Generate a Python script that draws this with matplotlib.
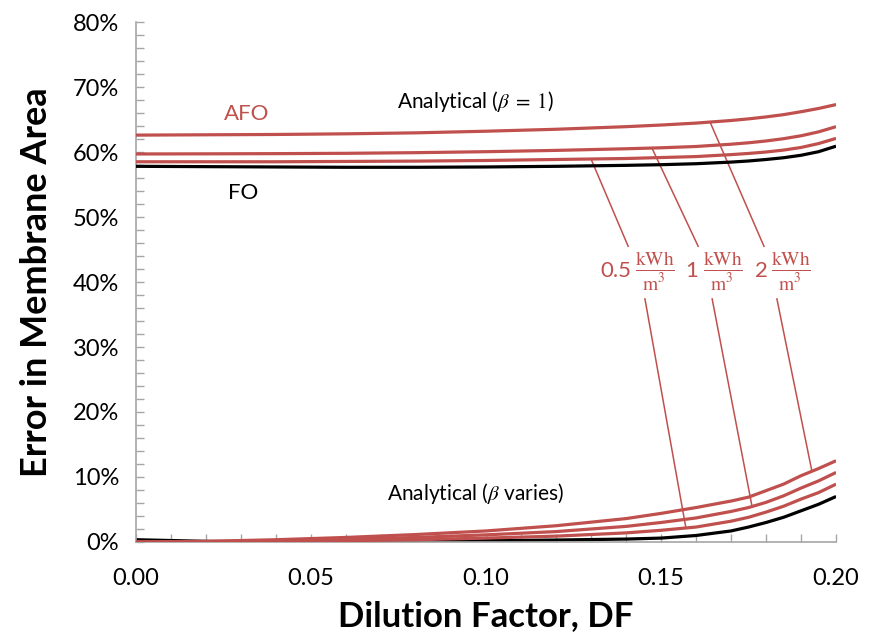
import numpy as np
import matplotlib
matplotlib.use("Agg")
import matplotlib.pyplot as plt
from matplotlib.ticker import MultipleLocator, FuncFormatter

# Dilution factor sample points
df = [0.00, 0.02, 0.04, 0.06, 0.08, 0.10, 0.12, 0.14, 0.15, 0.16, 0.17,
      0.175, 0.18, 0.185, 0.19, 0.195, 0.20]

# Analytical (beta = 1): error in membrane area, %
fo_beta1 = [57.8, 57.75, 57.7, 57.65, 57.65, 57.7, 57.8, 57.95, 58.05, 58.2, 58.45,
            58.62, 58.85, 59.12, 59.5, 60.05, 60.9]
afo05_beta1 = [58.5, 58.5, 58.5, 58.55, 58.6, 58.7, 58.85, 59.0, 59.15, 59.3, 59.6,
               59.78, 60.0, 60.3, 60.7, 61.3, 62.1]
afo1_beta1 = [59.7, 59.72, 59.75, 59.8, 59.9, 60.05, 60.25, 60.5, 60.65, 60.85, 61.2,
              61.42, 61.7, 62.05, 62.5, 63.1, 63.9]
afo2_beta1 = [62.6, 62.65, 62.7, 62.8, 62.95, 63.2, 63.5, 63.9, 64.15, 64.45, 64.85,
              65.1, 65.4, 65.75, 66.2, 66.7, 67.3]

# Analytical (beta varies): error in membrane area, %
fo_var = [0.35, 0.1, 0.0, 0.05, 0.1, 0.2, 0.3, 0.45, 0.6, 1.0, 1.7,
          2.3, 3.0, 3.8, 4.8, 5.8, 7.0]
afo05_var = [0.0, 0.0, 0.1, 0.2, 0.35, 0.6, 0.9, 1.4, 1.8, 2.3, 3.2,
             3.8, 4.6, 5.5, 6.6, 7.6, 8.9]
afo1_var = [0.0, 0.05, 0.2, 0.4, 0.7, 1.1, 1.6, 2.4, 3.0, 3.7, 4.7,
            5.3, 6.1, 7.1, 8.3, 9.4, 10.7]
afo2_var = [0.0, 0.1, 0.35, 0.7, 1.15, 1.7, 2.5, 3.6, 4.4, 5.3, 6.3,
            6.9, 7.9, 8.9, 10.2, 11.3, 12.5]

# Specific energy labels and the DF where each leader touches its curves
energy_numbers = ["0.5", "1", "2"]
leader_df_upper = [0.130, 0.1474, 0.164]
leader_df_lower = [0.1571, 0.176, 0.1931]

RED = "#C0504D"
GRAY = "#A6A6A6"
SANS = ["Lato", "DejaVu Sans"]

plt.rcParams["font.family"] = SANS
plt.rcParams["mathtext.fontset"] = "stix"

fig = plt.figure(figsize=(8.70, 6.44), dpi=100)
ax = fig.add_axes([0.1563, 0.1584, 0.8047, 0.8074])

lw = 2.3
style = dict(lw=lw, solid_capstyle="butt", solid_joinstyle="round")
for series in (afo05_beta1, afo1_beta1, afo2_beta1, afo05_var, afo1_var, afo2_var):
    ax.plot(df, series, color=RED, zorder=3, **style)
ax.plot(df, fo_beta1, color="black", zorder=4, **style)
ax.plot(df, fo_var, color="black", zorder=2, **style)

# Leader lines from each pair of curves to its energy label
upper_curves = [afo05_beta1, afo1_beta1, afo2_beta1]
lower_curves = [afo05_var, afo1_var, afo2_var]
upper_end_df = [0.1406, 0.1606, 0.1794]
lower_start_df = [0.1454, 0.1646, 0.1831]
upper_end_y = 45.5
lower_start_y = 37.4
for i in range(3):
    y_up = np.interp(leader_df_upper[i], df, upper_curves[i])
    ax.plot([leader_df_upper[i], upper_end_df[i]], [y_up, upper_end_y],
            color=RED, lw=1.1, zorder=2)
    y_lo = np.interp(leader_df_lower[i], df, lower_curves[i])
    ax.plot([lower_start_df[i], leader_df_lower[i]], [lower_start_y, y_lo],
            color=RED, lw=1.1, zorder=2)

# Energy labels: number plus kWh/m^3 fraction
number_right = [0.1416, 0.1605, 0.1805]
frac_left = [0.1426, 0.1620, 0.1814]
label_y = 41.7
for i, num in enumerate(energy_numbers):
    ax.text(number_right[i], label_y, num, color=RED, fontsize=16,
            ha="right", va="center")
    ax.text(frac_left[i], label_y, r"$\frac{\mathrm{kWh}}{\mathrm{m^3}}$",
            color=RED, fontsize=20, ha="left", va="center")

ax.text(0.0317, 65.8, "AFO", color=RED, fontsize=16, ha="center", va="center")
ax.text(0.0306, 53.7, "FO", color="black", fontsize=16, ha="center", va="center")
ax.text(0.0969, 67.8, r"Analytical ($\beta\;=\;1$)", color="black", fontsize=15,
        ha="center", va="center")
ax.text(0.0971, 7.5, r"Analytical ($\beta$ varies)", color="black", fontsize=15,
        ha="center", va="center")

ax.set_xlim(0.0, 0.20)
ax.set_ylim(0, 80)
ax.xaxis.set_major_locator(MultipleLocator(0.05))
ax.xaxis.set_minor_locator(MultipleLocator(0.01))
ax.yaxis.set_major_locator(MultipleLocator(10))
ax.yaxis.set_minor_locator(MultipleLocator(2))
ax.xaxis.set_major_formatter(FuncFormatter(lambda v, p: f"{v:.2f}"))
ax.yaxis.set_major_formatter(FuncFormatter(lambda v, p: f"{v:.0f}%"))

for side in ("top", "right"):
    ax.spines[side].set_visible(False)
for side in ("left", "bottom"):
    ax.spines[side].set_color(GRAY)
    ax.spines[side].set_linewidth(1.2)

ax.tick_params(axis="both", which="both", direction="in", color=GRAY,
               width=1.0, length=6, labelsize=17, labelcolor="black")
ax.tick_params(axis="x", which="major", pad=19)
ax.tick_params(axis="y", which="major", pad=12)

ax.set_xlabel("Dilution Factor, DF", fontsize=25, fontweight="bold", labelpad=8)
ax.set_ylabel("Error in Membrane Area", fontsize=26, fontweight="bold", labelpad=14)

fig.savefig("out.png", dpi=100)
